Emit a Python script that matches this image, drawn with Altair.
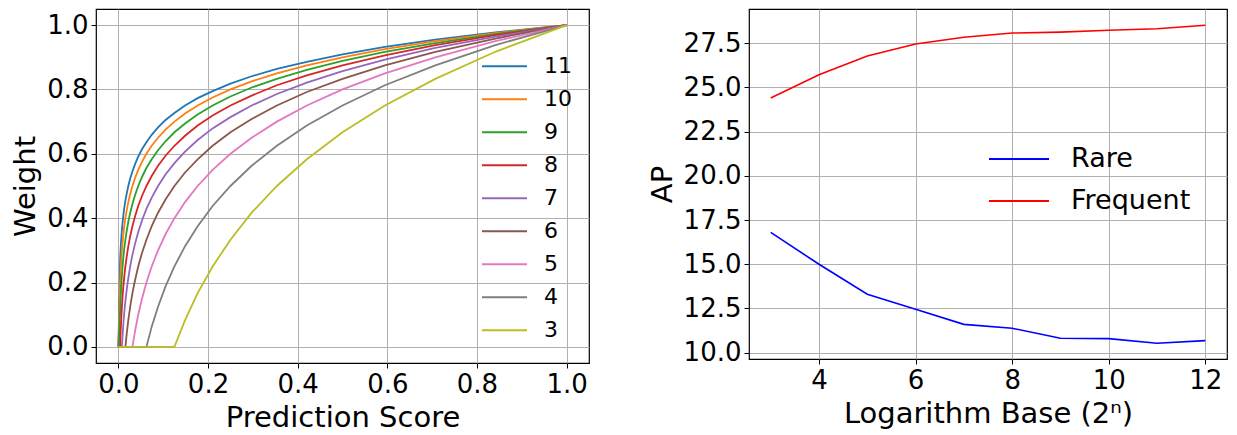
import altair as alt
import pandas as pd

# ---------------- left panel data ----------------
score = [0.0, 0.0039, 0.0046, 0.0055, 0.0066, 0.0078, 0.0093, 0.0110, 0.0131,
         0.0156, 0.0186, 0.0221, 0.0263, 0.03125, 0.0372, 0.0442, 0.0526,
         0.0625, 0.0743, 0.0884, 0.1051, 0.125, 0.1487, 0.1768, 0.2102,
         0.25, 0.2973, 0.3536, 0.4204, 0.5, 0.5946, 0.7071, 0.8409, 1.0]

w11 = [0, .273, .295, .318, .341, .364, .386, .409, .432, .455, .477, .500, .523, .545,
       .568, .591, .614, .636, .659, .682, .705, .727, .750, .773, .795, .818, .841,
       .864, .886, .909, .932, .955, .977, 1.0]
w10 = [0, .200, .225, .250, .275, .300, .325, .350, .375, .400, .425, .450, .475, .500,
       .525, .550, .575, .600, .625, .650, .675, .700, .725, .750, .775, .800, .825,
       .850, .875, .900, .925, .950, .975, 1.0]
w9 = [0, .111, .139, .167, .194, .222, .250, .278, .306, .333, .361, .389, .417, .444,
      .472, .500, .528, .556, .583, .611, .639, .667, .694, .722, .750, .778, .806,
      .833, .861, .889, .917, .944, .972, 1.0]
w8 = [0, 0, .031, .063, .094, .125, .156, .188, .219, .250, .281, .313, .344, .375,
      .406, .438, .469, .500, .531, .563, .594, .625, .656, .688, .719, .750, .781,
      .813, .844, .875, .906, .938, .969, 1.0]
w7 = [0, 0, 0, 0, 0, 0, .036, .071, .107, .143, .179, .214, .250, .286,
      .321, .357, .393, .429, .464, .500, .536, .571, .607, .643, .679, .714, .750,
      .786, .821, .857, .893, .929, .964, 1.0]
w6 = [0, 0, 0, 0, 0, 0, 0, 0, 0, 0, .042, .083, .125, .167,
      .208, .250, .292, .333, .375, .417, .458, .500, .542, .583, .625, .667, .708,
      .750, .792, .833, .875, .917, .958, 1.0]
w5 = [0, 0, 0, 0, 0, 0, 0, 0, 0, 0, 0, 0, 0, 0,
      .050, .100, .150, .200, .250, .300, .350, .400, .450, .500, .550, .600, .650,
      .700, .750, .800, .850, .900, .950, 1.0]
w4 = [0, 0, 0, 0, 0, 0, 0, 0, 0, 0, 0, 0, 0, 0,
      0, 0, 0, 0, .063, .125, .188, .250, .313, .375, .438, .500, .563,
      .625, .688, .750, .813, .875, .938, 1.0]
w3 = [0, 0, 0, 0, 0, 0, 0, 0, 0, 0, 0, 0, 0, 0,
      0, 0, 0, 0, 0, 0, 0, 0, .083, .167, .250, .333, .417,
      .500, .583, .667, .750, .833, .917, 1.0]

curve_names = ["11", "10", "9", "8", "7", "6", "5", "4", "3"]
curve_weights = [w11, w10, w9, w8, w7, w6, w5, w4, w3]
curve_colors = ["#1f77b4", "#ff7f0e", "#2ca02c", "#d62728", "#9467bd",
                "#8c564b", "#e377c2", "#7f7f7f", "#bcbd22"]

left_ticks = [0.0, 0.2, 0.4, 0.6, 0.8, 1.0]

# ---------------- right panel data ----------------
base_n = [3, 4, 5, 6, 7, 8, 9, 10, 11, 12]
rare_ap = [16.8, 15.0, 13.3, 12.45, 11.6, 11.38, 10.81, 10.79, 10.53, 10.68]
frequent_ap = [24.4, 25.72, 26.78, 27.46, 27.84, 28.08, 28.13, 28.24, 28.32, 28.52]
series_names = ["Rare", "Frequent"]
series_colors = ["#0000ff", "#ff0000"]
right_xticks = [4, 6, 8, 10, 12]
right_yticks = [10.0, 12.5, 15.0, 17.5, 20.0, 22.5, 25.0, 27.5]

rows = []
for name, ws in zip(curve_names, curve_weights):
    for s, w in zip(score, ws):
        rows.append({"score": s, "weight": w, "base": name})
left_df = pd.DataFrame(rows)

rows = []
for name, vals in zip(series_names, [rare_ap, frequent_ap]):
    for n, v in zip(base_n, vals):
        rows.append({"n": n, "ap": v, "series": name})
right_df = pd.DataFrame(rows)

left = alt.Chart(left_df).mark_line(strokeWidth=1.8).encode(
    x=alt.X("score:Q",
            scale=alt.Scale(domain=[-0.05, 1.05], nice=False, zero=False),
            axis=alt.Axis(title="Prediction Score", values=left_ticks, format=".1f")),
    y=alt.Y("weight:Q",
            scale=alt.Scale(domain=[-0.05, 1.05], nice=False, zero=False),
            axis=alt.Axis(title="Weight", values=left_ticks, format=".1f")),
    color=alt.Color("base:N", sort=curve_names,
                    scale=alt.Scale(domain=curve_names, range=curve_colors),
                    legend=alt.Legend(title=None, orient="none", legendX=385, legendY=41,
                                      symbolType="stroke", symbolSize=2025,
                                      symbolStrokeWidth=2, labelFontSize=22,
                                      labelOffset=16, clipHeight=32.6, rowPadding=0,
                                      padding=0)),
).properties(width=493, height=354)

right = alt.Chart(right_df).mark_line(strokeWidth=1.6).encode(
    x=alt.X("n:Q",
            scale=alt.Scale(domain=[2.55, 12.45], nice=False, zero=False),
            axis=alt.Axis(title="Logarithm Base (2ⁿ)", values=right_xticks, format="d")),
    y=alt.Y("ap:Q",
            scale=alt.Scale(domain=[9.64, 29.44], nice=False, zero=False),
            axis=alt.Axis(title="AP", values=right_yticks, format=".1f")),
    color=alt.Color("series:N", sort=series_names,
                    scale=alt.Scale(domain=series_names, range=series_colors),
                    legend=alt.Legend(title=None, orient="none", legendX=239, legendY=129,
                                      symbolType="stroke", symbolSize=3600,
                                      symbolStrokeWidth=2, labelFontSize=27,
                                      labelOffset=21, clipHeight=42, rowPadding=0,
                                      padding=0)),
).properties(width=478, height=350)

chart = alt.hconcat(left, right, spacing=57).resolve_scale(
    color="independent"
).properties(padding={"left": 3, "top": 0, "right": 0, "bottom": 0}).configure_axis(
    labelFont="DejaVu Sans", titleFont="DejaVu Sans",
    labelFontSize=26, titleFontSize=29, titleFontWeight="normal",
    labelColor="black", titleColor="black",
    gridColor="#b0b0b0", gridWidth=1, gridOpacity=1,
    tickColor="black", tickSize=5, tickWidth=1,
    domain=False, labelPadding=3, titlePadding=6, labelFlush=False,
).configure_legend(
    labelFont="DejaVu Sans", labelColor="black",
).configure_view(stroke="black", strokeWidth=1.2)

chart.save("out.html", embed_options={"renderer": "svg", "actions": False})
